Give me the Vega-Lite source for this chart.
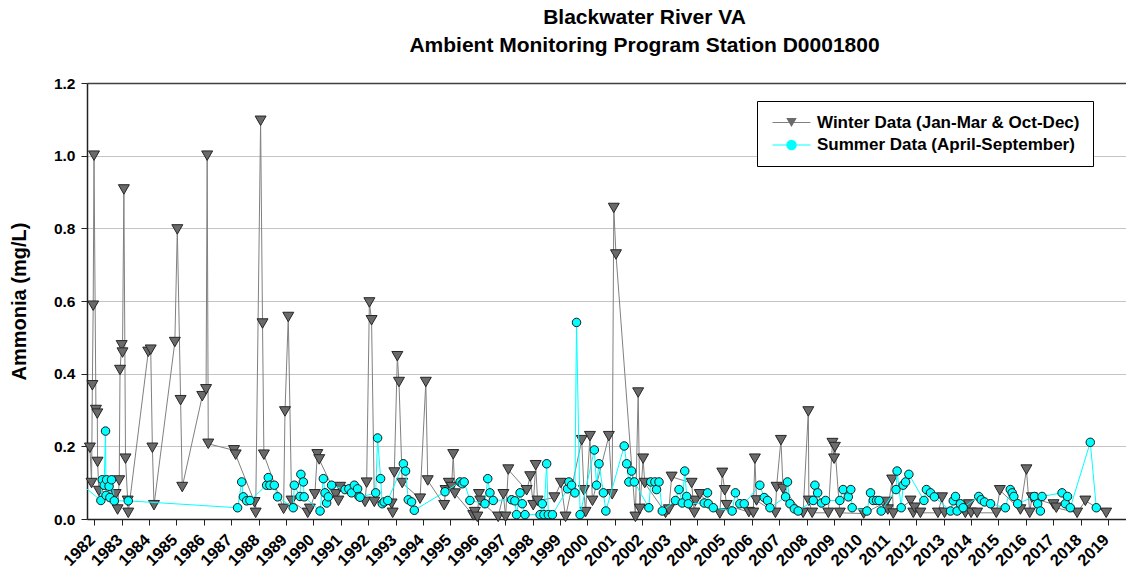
{
  "$schema": "https://vega.github.io/schema/vega-lite/v6.json",
  "width": 1039,
  "height": 436,
  "autosize": {"type": "none"},
  "padding": {"left": 87, "top": 83, "right": 0, "bottom": 57},
  "background": "white",
  "config": {"view": {"stroke": null}},
  "title": {
    "text": ["Blackwater River VA", "Ambient Monitoring Program Station D0001800"],
    "font": "Liberation Sans", "fontWeight": "bold", "fontSize": 21, "color": "black",
    "anchor": "middle", "dx": 38, "offset": 20, "lineHeight": 28
  },
  "data": {"values": [
    {"t":1981.84,"v":0.196,"s":"W"},{"t":1981.90,"v":0.099,"s":"W"},{"t":1981.93,"v":0.368,"s":"W"},{"t":1981.96,"v":0.587,"s":"W"},{"t":1981.99,"v":1.0,"s":"W"},
    {"t":1982.06,"v":0.30,"s":"W"},{"t":1982.11,"v":0.29,"s":"W"},{"t":1982.12,"v":0.157,"s":"W"},{"t":1982.17,"v":0.077,"s":"W"},{"t":1982.78,"v":0.068,"s":"W"},
    {"t":1982.85,"v":0.026,"s":"W"},{"t":1982.91,"v":0.106,"s":"W"},{"t":1982.94,"v":0.41,"s":"W"},{"t":1983.00,"v":0.478,"s":"W"},{"t":1983.03,"v":0.458,"s":"W"},
    {"t":1983.08,"v":0.907,"s":"W"},{"t":1983.14,"v":0.166,"s":"W"},{"t":1983.22,"v":0.05,"s":"W"},{"t":1983.24,"v":0.017,"s":"W"},{"t":1983.97,"v":0.46,"s":"W"},
    {"t":1984.06,"v":0.466,"s":"W"},{"t":1984.12,"v":0.196,"s":"W"},{"t":1984.18,"v":0.038,"s":"W"},{"t":1984.94,"v":0.487,"s":"W"},{"t":1985.03,"v":0.797,"s":"W"},
    {"t":1985.15,"v":0.327,"s":"W"},{"t":1985.21,"v":0.088,"s":"W"},{"t":1985.94,"v":0.338,"s":"W"},{"t":1986.08,"v":0.357,"s":"W"},{"t":1986.12,"v":1.0,"s":"W"},
    {"t":1986.16,"v":0.207,"s":"W"},{"t":1987.10,"v":0.189,"s":"W"},{"t":1987.16,"v":0.177,"s":"W"},{"t":1987.85,"v":0.046,"s":"W"},{"t":1987.89,"v":0.017,"s":"W"},
    {"t":1988.07,"v":1.096,"s":"W"},{"t":1988.14,"v":0.538,"s":"W"},{"t":1988.19,"v":0.177,"s":"W"},{"t":1988.91,"v":0.028,"s":"W"},{"t":1988.96,"v":0.296,"s":"W"},
    {"t":1989.08,"v":0.556,"s":"W"},{"t":1989.20,"v":0.05,"s":"W"},{"t":1989.79,"v":0.017,"s":"W"},{"t":1989.87,"v":0.028,"s":"W"},{"t":1990.05,"v":0.068,"s":"W"},
    {"t":1990.14,"v":0.178,"s":"W"},{"t":1990.21,"v":0.164,"s":"W"},{"t":1990.81,"v":0.068,"s":"W"},{"t":1990.91,"v":0.05,"s":"W"},{"t":1990.97,"v":0.088,"s":"W"},
    {"t":1991.88,"v":0.047,"s":"W"},{"t":1991.94,"v":0.1,"s":"W"},{"t":1992.04,"v":0.596,"s":"W"},{"t":1992.12,"v":0.547,"s":"W"},{"t":1992.22,"v":0.047,"s":"W"},
    {"t":1992.85,"v":0.042,"s":"W"},{"t":1992.89,"v":0.017,"s":"W"},{"t":1992.95,"v":0.128,"s":"W"},{"t":1993.06,"v":0.448,"s":"W"},{"t":1993.12,"v":0.377,"s":"W"},
    {"t":1993.24,"v":0.099,"s":"W"},{"t":1993.89,"v":0.056,"s":"W"},{"t":1994.10,"v":0.377,"s":"W"},{"t":1994.17,"v":0.106,"s":"W"},{"t":1994.77,"v":0.038,"s":"W"},
    {"t":1994.82,"v":0.079,"s":"W"},{"t":1994.94,"v":0.099,"s":"W"},{"t":1995.04,"v":0.088,"s":"W"},{"t":1995.10,"v":0.178,"s":"W"},{"t":1995.16,"v":0.07,"s":"W"},
    {"t":1995.83,"v":0.01,"s":"W"},{"t":1995.89,"v":0.019,"s":"W"},{"t":1995.98,"v":0.006,"s":"W"},{"t":1996.04,"v":0.068,"s":"W"},{"t":1996.09,"v":0.05,"s":"W"},
    {"t":1996.74,"v":0.006,"s":"W"},{"t":1996.93,"v":0.068,"s":"W"},{"t":1997.01,"v":0.006,"s":"W"},{"t":1997.11,"v":0.136,"s":"W"},{"t":1997.78,"v":0.079,"s":"W"},
    {"t":1997.91,"v":0.117,"s":"W"},{"t":1998.02,"v":0.038,"s":"W"},{"t":1998.11,"v":0.148,"s":"W"},{"t":1998.18,"v":0.05,"s":"W"},{"t":1998.79,"v":0.059,"s":"W"},
    {"t":1999.03,"v":0.099,"s":"W"},{"t":1999.20,"v":0.006,"s":"W"},{"t":1999.79,"v":0.217,"s":"W"},{"t":1999.87,"v":0.079,"s":"W"},{"t":1999.93,"v":0.019,"s":"W"},
    {"t":2000.09,"v":0.228,"s":"W"},{"t":2000.18,"v":0.05,"s":"W"},{"t":2000.78,"v":0.228,"s":"W"},{"t":2000.90,"v":0.068,"s":"W"},{"t":2000.96,"v":0.856,"s":"W"},
    {"t":2001.04,"v":0.728,"s":"W"},{"t":2001.75,"v":0.006,"s":"W"},{"t":2001.85,"v":0.348,"s":"W"},{"t":2001.91,"v":0.028,"s":"W"},{"t":2002.03,"v":0.166,"s":"W"},
    {"t":2002.09,"v":0.099,"s":"W"},{"t":2002.85,"v":0.017,"s":"W"},{"t":2002.97,"v":0.026,"s":"W"},{"t":2003.07,"v":0.116,"s":"W"},{"t":2003.80,"v":0.099,"s":"W"},
    {"t":2003.90,"v":0.017,"s":"W"},{"t":2003.94,"v":0.05,"s":"W"},{"t":2004.10,"v":0.068,"s":"W"},{"t":2004.83,"v":0.015,"s":"W"},{"t":2004.92,"v":0.127,"s":"W"},
    {"t":2005.01,"v":0.079,"s":"W"},{"t":2005.08,"v":0.038,"s":"W"},{"t":2005.89,"v":0.019,"s":"W"},{"t":2006.05,"v":0.017,"s":"W"},{"t":2006.11,"v":0.166,"s":"W"},
    {"t":2006.17,"v":0.051,"s":"W"},{"t":2006.86,"v":0.017,"s":"W"},{"t":2006.90,"v":0.088,"s":"W"},{"t":2007.06,"v":0.217,"s":"W"},{"t":2007.14,"v":0.083,"s":"W"},
    {"t":2007.87,"v":0.017,"s":"W"},{"t":2008.06,"v":0.296,"s":"W"},{"t":2008.08,"v":0.05,"s":"W"},{"t":2008.20,"v":0.017,"s":"W"},{"t":2008.79,"v":0.017,"s":"W"},
    {"t":2008.94,"v":0.209,"s":"W"},{"t":2009.00,"v":0.166,"s":"W"},{"t":2009.03,"v":0.198,"s":"W"},{"t":2009.21,"v":0.017,"s":"W"},{"t":2010.08,"v":0.015,"s":"W"},
    {"t":2010.91,"v":0.047,"s":"W"},{"t":2010.96,"v":0.026,"s":"W"},{"t":2011.12,"v":0.108,"s":"W"},{"t":2011.16,"v":0.015,"s":"W"},{"t":2011.79,"v":0.05,"s":"W"},
    {"t":2011.89,"v":0.017,"s":"W"},{"t":2011.94,"v":0.031,"s":"W"},{"t":2012.15,"v":0.017,"s":"W"},{"t":2012.79,"v":0.017,"s":"W"},{"t":2012.94,"v":0.059,"s":"W"},
    {"t":2013.03,"v":0.017,"s":"W"},{"t":2013.79,"v":0.017,"s":"W"},{"t":2013.92,"v":0.04,"s":"W"},{"t":2014.00,"v":0.017,"s":"W"},{"t":2014.22,"v":0.017,"s":"W"},
    {"t":2014.92,"v":0.017,"s":"W"},{"t":2015.05,"v":0.079,"s":"W"},{"t":2015.80,"v":0.026,"s":"W"},{"t":2016.02,"v":0.136,"s":"W"},{"t":2016.14,"v":0.017,"s":"W"},
    {"t":2016.22,"v":0.059,"s":"W"},{"t":2017.01,"v":0.04,"s":"W"},{"t":2017.11,"v":0.031,"s":"W"},{"t":2017.87,"v":0.017,"s":"W"},{"t":2018.17,"v":0.05,"s":"W"},
    {"t":2018.93,"v":0.017,"s":"W"},
    {"t":1981.50,"v":0.097,"s":"S"},{"t":1982.24,"v":0.051,"s":"S"},{"t":1982.29,"v":0.108,"s":"S"},{"t":1982.36,"v":0.093,"s":"S"},{"t":1982.41,"v":0.242,"s":"S"},
    {"t":1982.43,"v":0.065,"s":"S"},{"t":1982.45,"v":0.108,"s":"S"},{"t":1982.54,"v":0.09,"s":"S"},{"t":1982.57,"v":0.059,"s":"S"},{"t":1982.63,"v":0.108,"s":"S"},
    {"t":1982.73,"v":0.05,"s":"S"},{"t":1983.24,"v":0.05,"s":"S"},{"t":1987.23,"v":0.031,"s":"S"},{"t":1987.38,"v":0.102,"s":"S"},{"t":1987.44,"v":0.061,"s":"S"},
    {"t":1987.56,"v":0.05,"s":"S"},{"t":1987.68,"v":0.051,"s":"S"},{"t":1988.29,"v":0.093,"s":"S"},{"t":1988.35,"v":0.114,"s":"S"},{"t":1988.41,"v":0.093,"s":"S"},
    {"t":1988.57,"v":0.093,"s":"S"},{"t":1988.69,"v":0.061,"s":"S"},{"t":1989.26,"v":0.031,"s":"S"},{"t":1989.30,"v":0.093,"s":"S"},{"t":1989.51,"v":0.062,"s":"S"},
    {"t":1989.54,"v":0.123,"s":"S"},{"t":1989.63,"v":0.102,"s":"S"},{"t":1989.66,"v":0.061,"s":"S"},{"t":1990.24,"v":0.022,"s":"S"},{"t":1990.36,"v":0.111,"s":"S"},
    {"t":1990.42,"v":0.072,"s":"S"},{"t":1990.48,"v":0.044,"s":"S"},{"t":1990.54,"v":0.061,"s":"S"},{"t":1990.66,"v":0.093,"s":"S"},{"t":1991.15,"v":0.081,"s":"S"},
    {"t":1991.29,"v":0.083,"s":"S"},{"t":1991.39,"v":0.072,"s":"S"},{"t":1991.49,"v":0.093,"s":"S"},{"t":1991.61,"v":0.083,"s":"S"},{"t":1991.66,"v":0.062,"s":"S"},
    {"t":1991.70,"v":0.06,"s":"S"},{"t":1992.27,"v":0.072,"s":"S"},{"t":1992.34,"v":0.223,"s":"S"},{"t":1992.45,"v":0.111,"s":"S"},{"t":1992.51,"v":0.042,"s":"S"},
    {"t":1992.58,"v":0.047,"s":"S"},{"t":1992.71,"v":0.051,"s":"S"},{"t":1993.28,"v":0.152,"s":"S"},{"t":1993.36,"v":0.132,"s":"S"},{"t":1993.46,"v":0.053,"s":"S"},
    {"t":1993.58,"v":0.047,"s":"S"},{"t":1993.68,"v":0.024,"s":"S"},{"t":1994.80,"v":0.075,"s":"S"},{"t":1995.35,"v":0.102,"s":"S"},{"t":1995.43,"v":0.097,"s":"S"},
    {"t":1995.50,"v":0.102,"s":"S"},{"t":1995.71,"v":0.051,"s":"S"},{"t":1996.26,"v":0.042,"s":"S"},{"t":1996.36,"v":0.111,"s":"S"},{"t":1996.44,"v":0.072,"s":"S"},
    {"t":1996.56,"v":0.051,"s":"S"},{"t":1997.23,"v":0.053,"s":"S"},{"t":1997.35,"v":0.05,"s":"S"},{"t":1997.41,"v":0.012,"s":"S"},{"t":1997.54,"v":0.072,"s":"S"},
    {"t":1997.62,"v":0.042,"s":"S"},{"t":1997.72,"v":0.012,"s":"S"},{"t":1998.27,"v":0.012,"s":"S"},{"t":1998.35,"v":0.042,"s":"S"},{"t":1998.41,"v":0.012,"s":"S"},
    {"t":1998.51,"v":0.152,"s":"S"},{"t":1998.57,"v":0.012,"s":"S"},{"t":1998.72,"v":0.012,"s":"S"},{"t":1999.27,"v":0.083,"s":"S"},{"t":1999.32,"v":0.102,"s":"S"},
    {"t":1999.42,"v":0.093,"s":"S"},{"t":1999.54,"v":0.072,"s":"S"},{"t":1999.60,"v":0.541,"s":"S"},{"t":1999.73,"v":0.012,"s":"S"},{"t":2000.25,"v":0.19,"s":"S"},
    {"t":2000.33,"v":0.093,"s":"S"},{"t":2000.42,"v":0.152,"s":"S"},{"t":2000.58,"v":0.072,"s":"S"},{"t":2000.67,"v":0.022,"s":"S"},{"t":2001.34,"v":0.201,"s":"S"},
    {"t":2001.43,"v":0.152,"s":"S"},{"t":2001.51,"v":0.102,"s":"S"},{"t":2001.61,"v":0.132,"s":"S"},{"t":2001.71,"v":0.102,"s":"S"},{"t":2002.24,"v":0.031,"s":"S"},
    {"t":2002.31,"v":0.102,"s":"S"},{"t":2002.46,"v":0.102,"s":"S"},{"t":2002.52,"v":0.081,"s":"S"},{"t":2002.61,"v":0.102,"s":"S"},{"t":2002.73,"v":0.022,"s":"S"},
    {"t":2003.21,"v":0.051,"s":"S"},{"t":2003.34,"v":0.081,"s":"S"},{"t":2003.46,"v":0.044,"s":"S"},{"t":2003.55,"v":0.132,"s":"S"},{"t":2003.62,"v":0.062,"s":"S"},
    {"t":2003.68,"v":0.042,"s":"S"},{"t":2004.26,"v":0.044,"s":"S"},{"t":2004.38,"v":0.072,"s":"S"},{"t":2004.41,"v":0.042,"s":"S"},{"t":2004.59,"v":0.031,"s":"S"},
    {"t":2005.28,"v":0.022,"s":"S"},{"t":2005.40,"v":0.072,"s":"S"},{"t":2005.56,"v":0.042,"s":"S"},{"t":2005.72,"v":0.042,"s":"S"},{"t":2006.29,"v":0.093,"s":"S"},
    {"t":2006.45,"v":0.059,"s":"S"},{"t":2006.57,"v":0.051,"s":"S"},{"t":2006.66,"v":0.031,"s":"S"},{"t":2007.23,"v":0.061,"s":"S"},{"t":2007.30,"v":0.102,"s":"S"},
    {"t":2007.39,"v":0.042,"s":"S"},{"t":2007.55,"v":0.028,"s":"S"},{"t":2007.69,"v":0.022,"s":"S"},{"t":2008.24,"v":0.051,"s":"S"},{"t":2008.30,"v":0.093,"s":"S"},
    {"t":2008.40,"v":0.072,"s":"S"},{"t":2008.54,"v":0.044,"s":"S"},{"t":2008.69,"v":0.051,"s":"S"},{"t":2009.21,"v":0.051,"s":"S"},{"t":2009.33,"v":0.081,"s":"S"},
    {"t":2009.52,"v":0.061,"s":"S"},{"t":2009.61,"v":0.081,"s":"S"},{"t":2009.66,"v":0.031,"s":"S"},{"t":2010.20,"v":0.022,"s":"S"},{"t":2010.33,"v":0.072,"s":"S"},
    {"t":2010.43,"v":0.051,"s":"S"},{"t":2010.55,"v":0.051,"s":"S"},{"t":2010.64,"v":0.051,"s":"S"},{"t":2010.72,"v":0.022,"s":"S"},{"t":2011.26,"v":0.081,"s":"S"},
    {"t":2011.30,"v":0.132,"s":"S"},{"t":2011.45,"v":0.031,"s":"S"},{"t":2011.52,"v":0.093,"s":"S"},{"t":2011.61,"v":0.102,"s":"S"},{"t":2011.73,"v":0.123,"s":"S"},
    {"t":2012.28,"v":0.051,"s":"S"},{"t":2012.37,"v":0.081,"s":"S"},{"t":2012.52,"v":0.072,"s":"S"},{"t":2012.66,"v":0.061,"s":"S"},{"t":2013.25,"v":0.022,"s":"S"},
    {"t":2013.35,"v":0.05,"s":"S"},{"t":2013.43,"v":0.062,"s":"S"},{"t":2013.49,"v":0.022,"s":"S"},{"t":2013.61,"v":0.042,"s":"S"},{"t":2013.71,"v":0.031,"s":"S"},
    {"t":2014.28,"v":0.062,"s":"S"},{"t":2014.37,"v":0.053,"s":"S"},{"t":2014.49,"v":0.047,"s":"S"},{"t":2014.71,"v":0.042,"s":"S"},{"t":2015.25,"v":0.031,"s":"S"},
    {"t":2015.43,"v":0.081,"s":"S"},{"t":2015.50,"v":0.072,"s":"S"},{"t":2015.56,"v":0.062,"s":"S"},{"t":2015.70,"v":0.042,"s":"S"},{"t":2016.31,"v":0.062,"s":"S"},
    {"t":2016.43,"v":0.042,"s":"S"},{"t":2016.53,"v":0.022,"s":"S"},{"t":2016.59,"v":0.062,"s":"S"},{"t":2017.32,"v":0.072,"s":"S"},{"t":2017.44,"v":0.042,"s":"S"},
    {"t":2017.52,"v":0.062,"s":"S"},{"t":2017.62,"v":0.031,"s":"S"},{"t":2018.35,"v":0.211,"s":"S"},{"t":2018.57,"v":0.031,"s":"S"}
  ]},
  "encoding": {
    "x": {
      "field": "t", "type": "quantitative",
      "scale": {"domain": [1981.734, 2019.654], "nice": false, "zero": false},
      "axis": {
        "title": null, "grid": false,
        "values": [1982,1983,1984,1985,1986,1987,1988,1989,1990,1991,1992,1993,1994,1995,1996,1997,1998,1999,2000,2001,2002,2003,2004,2005,2006,2007,2008,2009,2010,2011,2012,2013,2014,2015,2016,2017,2018,2019],
        "format": "d", "labelAngle": -45, "labelAlign": "right", "labelBaseline": "middle",
        "labelFont": "Liberation Sans", "labelFontWeight": "bold", "labelFontSize": 16.5, "labelColor": "black",
        "labelPadding": 12, "labelOffset": -2, "labelOverlap": false, "labelFlush": false, "labelBound": false,
        "tickSize": 6, "tickColor": "#222222", "domainColor": "#222222", "domainWidth": 1.5
      }
    },
    "y": {
      "field": "v", "type": "quantitative",
      "scale": {"domain": [0, 1.2], "nice": false},
      "axis": {
        "title": "Ammonia (mg/L)", "titleFont": "Liberation Sans", "titleFontWeight": "bold", "titleFontSize": 20, "titleColor": "black", "titlePadding": 24,
        "values": [0, 0.2, 0.4, 0.6, 0.8, 1.0, 1.2], "format": ".1f",
        "labelFont": "Liberation Sans", "labelFontWeight": "bold", "labelFontSize": 15.5, "labelColor": "black", "labelPadding": 6,
        "tickSize": 6, "tickColor": "#222222", "domainColor": "#222222", "domainWidth": 1.5,
        "grid": true,
        "gridColor": {"condition": {"test": "datum.value >= 1.19", "value": "#404040"}, "value": "#c4c4c4"},
        "gridWidth": {"condition": {"test": "datum.value >= 1.19", "value": 1.5}, "value": 1.2}
      }
    }
  },
  "layer": [
    {
      "transform": [{"filter": "datum.s == 'W'"}],
      "mark": {"type": "line", "strokeWidth": 1, "clip": true},
      "encoding": {
        "color": {
          "field": "s", "type": "nominal",
          "scale": {"domain": ["W", "S"], "range": ["#808080", "#00FFFF"]},
          "legend": {
            "orient": "none", "legendX": 670, "legendY": 18, "title": null,
            "fillColor": "white", "strokeColor": "black", "padding": 13,
            "labelFont": "Liberation Sans", "labelFontWeight": "bold", "labelFontSize": 17, "labelColor": "black", "labelLimit": 500,
            "labelExpr": "datum.value == 'W' ? 'Winter Data (Jan-Mar & Oct-Dec)' : 'Summer Data (April-September)'",
            "symbolType": "M-3.8,0H3.8", "symbolSize": 100, "symbolOffset": 13, "labelOffset": 17, "rowPadding": 4.5, "symbolStrokeWidth": 1
          }
        }
      }
    },
    {
      "transform": [{"filter": "datum.s == 'W'"}],
      "mark": {"type": "point", "filled": true, "size": 120, "stroke": "#262626", "strokeWidth": 1, "opacity": 1},
      "encoding": {
        "fill": {
          "field": "s", "type": "nominal", "sort": "descending",
          "scale": {"range": ["#6a6a6a", "#00FFFF"]},
          "legend": {
            "orient": "none", "legendX": 670, "legendY": 18, "title": null, "padding": 13,
            "labelFont": "Liberation Sans", "labelFontWeight": "bold", "labelFontSize": 17, "labelColor": "black", "labelLimit": 500, "labelOpacity": 0,
            "labelExpr": "datum.value == 'W' ? 'Winter Data (Jan-Mar & Oct-Dec)' : 'Summer Data (April-September)'",
            "symbolSize": 110, "symbolOffset": 13, "labelOffset": 17, "rowPadding": 4.5,
            "symbolStrokeColor": "#262626", "symbolStrokeWidth": 1, "symbolOpacity": 1
          }
        },
        "shape": {
          "field": "s", "type": "nominal", "sort": "descending",
          "scale": {"range": ["triangle-down", "circle"]},
          "legend": {
            "orient": "none", "legendX": 670, "legendY": 18, "title": null, "padding": 13,
            "labelFont": "Liberation Sans", "labelFontWeight": "bold", "labelFontSize": 17, "labelColor": "black", "labelLimit": 500, "labelOpacity": 0,
            "labelExpr": "datum.value == 'W' ? 'Winter Data (Jan-Mar & Oct-Dec)' : 'Summer Data (April-September)'",
            "symbolSize": 110, "symbolOffset": 13, "labelOffset": 17, "rowPadding": 4.5,
            "symbolStrokeColor": "#262626", "symbolStrokeWidth": 1, "symbolOpacity": 1
          }
        }
      }
    },
    {
      "transform": [{"filter": "datum.s == 'S'"}],
      "mark": {"type": "line", "strokeWidth": 1, "clip": true},
      "encoding": {
        "color": {"field": "s", "type": "nominal"}
      }
    },
    {
      "transform": [{"filter": "datum.s == 'S' && datum.t > 1981.75"}],
      "mark": {"type": "point", "filled": true, "size": 72, "stroke": "#1a1a1a", "strokeWidth": 1, "opacity": 1},
      "encoding": {
        "fill": {"field": "s", "type": "nominal", "sort": "descending"},
        "shape": {"field": "s", "type": "nominal", "sort": "descending"}
      }
    }
  ]
}
